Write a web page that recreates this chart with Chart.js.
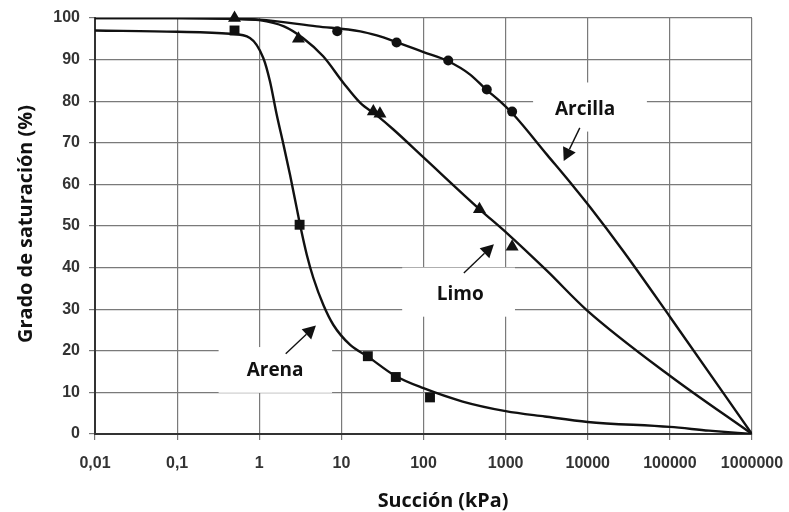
<!DOCTYPE html>
<html>
<head>
<meta charset="utf-8">
<script src="https://cdn.jsdelivr.net/npm/chart.js@4.4.1/dist/chart.umd.min.js"></script>
<style>
	html, body { margin: 0; padding: 0; background: #fff; }
	#wrap { width: 789px; height: 512px; }
</style>
</head>
<body>
<div id="wrap"><canvas id="myChart" width="789" height="512"></canvas></div>
<script>
// axis ticks
var xTicks = [0.01, 0.1, 1, 10, 100, 1000, 10000, 100000, 1000000]
var xTickLabels = ["0,01", "0,1", "1", "10", "100", "1000", "10000", "100000", "1000000"]
var xTitle = "Succión (kPa)"
var yTitle = "Grado de saturación (%)"

// fitted curves
var arenaLineX = [0.01, 0.1, 0.44, 0.77, 1.12, 1.35, 1.63, 1.97, 2.37, 2.86, 3.14, 3.79, 4.56, 6.04, 8, 12.8, 21, 45, 100, 300, 1000, 3000, 10000, 100000, 300000, 1000000]
var arenaLineY = [97, 96.7, 96.2, 95.2, 90.4, 84.8, 76.8, 69.6, 62.3, 54.3, 50.3, 43.1, 37.5, 31, 26.2, 21.4, 18.6, 14, 11, 7.8, 5.5, 4.2, 2.9, 1.7, 0.8, 0]
var limoLineX = [0.01, 0.1, 0.5, 1, 2, 3.4, 6, 10.6, 17, 27, 43, 100, 490, 1035, 3200, 9700, 100000, 1000000]
var limoLineY = [100, 100, 99.8, 99.5, 98, 95.2, 90.8, 84.4, 79.6, 76.6, 73.2, 66.5, 53.9, 48.3, 39.2, 29.8, 14, 0]
var arcillaLineX = [0.01, 0.1, 0.5, 1, 5, 17, 27, 47, 100, 200, 370, 580, 850, 1245, 3200, 6700, 10700, 27000, 100000, 1000000]
var arcillaLineY = [100, 100, 99.8, 99.6, 98, 96.8, 95.8, 94.2, 91.8, 89.6, 86.4, 82.8, 80, 76.8, 67.1, 59.5, 54.5, 44, 28.2, 0]

// measured points
var arenaPtsX = [0.5, 3.1, 21, 46, 120]
var arenaPtsY = [97, 50.3, 18.7, 13.7, 8.8]
var limoPtsX = [0.5, 3, 24.5, 29.5, 480, 1200]
var limoPtsY = [100, 95, 77.5, 77, 54, 45]
var arcillaPtsX = [8.9, 47, 200, 590, 1200]
var arcillaPtsY = [96.8, 94.1, 89.8, 82.8, 77.5]

// labels with arrows (data coords)
var notes = [
	{text: "Arcilla", x: 9300, y: 78, box: [2160, 52500, 84.5, 72.7], from: [8000, 73.6], to: [5100, 65.6]},
	{text: "Limo", x: 280, y: 33.5, box: [55, 1300, 40, 28.2], from: [310, 38.7], to: [720, 45.6]},
	{text: "Arena", x: 1.56, y: 15.2, box: [0.32, 7.7, 20.9, 9.9], from: [2.1, 19.3], to: [4.9, 26.1]},
]

function pts(xs, ys) {
	return xs.map(function (x, i) { return {x: x, y: ys[i]} })
}

var lineStyle = {showLine: true, pointRadius: 0, borderColor: "#111", borderWidth: 2.4, cubicInterpolationMode: "monotone", fill: false}
var markStyle = {showLine: false, backgroundColor: "#111", borderColor: "#111", borderWidth: 0, clip: false}

// set font so that the text spans a given length
function fitFont(c, text, len) {
	c.font = "bold 20px 'Open Sans'"
	var s = 20 * len / c.measureText(text).width
	c.font = "bold " + s.toFixed(1) + "px 'Open Sans'"
}

var notesPlugin = {
	id: "notes",
	beforeDatasetsDraw: function (chart) {
		var c = chart.ctx, xs = chart.scales.x, ys = chart.scales.y
		c.save()
		c.fillStyle = "#fff"
		notes.forEach(function (n) {
			var x1 = xs.getPixelForValue(n.box[0]), x2 = xs.getPixelForValue(n.box[1])
			var y1 = ys.getPixelForValue(n.box[2]), y2 = ys.getPixelForValue(n.box[3])
			c.fillRect(x1, y1, x2 - x1, y2 - y1)
		})
		c.restore()
	},
	afterDatasetsDraw: function (chart) {
		var c = chart.ctx, xs = chart.scales.x, ys = chart.scales.y
		c.save()
		c.fillStyle = "#111"
		c.strokeStyle = "#111"
		c.font = "bold 19px 'Open Sans'"
		c.textAlign = "center"
		c.textBaseline = "middle"
		notes.forEach(function (n) {
			c.fillText(n.text, xs.getPixelForValue(n.x), ys.getPixelForValue(n.y))
			var ax = xs.getPixelForValue(n.from[0]), ay = ys.getPixelForValue(n.from[1])
			var bx = xs.getPixelForValue(n.to[0]), by = ys.getPixelForValue(n.to[1])
			var ang = Math.atan2(by - ay, bx - ax)
			var hl = 13, hw = 7
			var bxs = bx - hl * Math.cos(ang), bys = by - hl * Math.sin(ang)
			c.lineWidth = 1.4
			c.beginPath()
			c.moveTo(ax, ay)
			c.lineTo(bxs, bys)
			c.stroke()
			c.beginPath()
			c.moveTo(bx, by)
			c.lineTo(bxs + hw * Math.sin(ang), bys - hw * Math.cos(ang))
			c.lineTo(bxs - hw * Math.sin(ang), bys + hw * Math.cos(ang))
			c.closePath()
			c.fill()
		})

		// axis titles
		c.textAlign = "center"
		c.textBaseline = "alphabetic"
		fitFont(c, xTitle, 131)
		c.fillText(xTitle, 443, 507)
		c.translate(32, 224)
		c.rotate(-Math.PI / 2)
		fitFont(c, yTitle, 238)
		c.fillText(yTitle, 0, 0)
		c.restore()
	},
}

var tickFont = {family: "'Liberation Sans', Arial, sans-serif", size: 16, weight: "bold"}

var ctx = document.getElementById("myChart").getContext("2d")
var myChart = new Chart(ctx, {
	type: "scatter",
	data: {
		datasets: [
			Object.assign({data: pts(arenaLineX, arenaLineY)}, lineStyle),
			Object.assign({data: pts(limoLineX, limoLineY)}, lineStyle),
			Object.assign({data: pts(arcillaLineX, arcillaLineY)}, lineStyle),
			Object.assign({data: pts(arenaPtsX, arenaPtsY), pointStyle: "rect", pointRadius: 7}, markStyle),
			Object.assign({data: pts(limoPtsX, limoPtsY), pointStyle: "triangle", pointRadius: 7.5}, markStyle),
			Object.assign({data: pts(arcillaPtsX, arcillaPtsY), pointStyle: "circle", pointRadius: 5}, markStyle),
		],
	},
	plugins: [notesPlugin],
	options: {
		responsive: false,
		animation: false,
		layout: {padding: {top: 18, right: 37, left: 0, bottom: 0}},
		scales: {
			x: {
				type: "logarithmic",
				min: 0.01,
				max: 1000000,
				afterBuildTicks: function (scale) {
					scale.ticks = xTicks.map(function (v) { return {value: v} })
				},
				afterFit: function (scale) {
					scale.height = 78
					scale.paddingLeft = 0
					scale.paddingRight = 0
				},
				ticks: {
					autoSkip: false,
					maxRotation: 0,
					padding: 14,
					color: "#333",
					font: tickFont,
					callback: function (v, i) { return xTickLabels[i] },
				},
				grid: {color: "#7a7a7a", lineWidth: 1.2, tickLength: 6, tickColor: "#777"},
				border: {color: "#333", width: 2},
			},
			y: {
				min: 0,
				max: 100,
				afterFit: function (scale) {
					scale.width = 95
					scale.paddingTop = 0
					scale.paddingBottom = 0
				},
				ticks: {stepSize: 10, padding: 9, color: "#333", font: tickFont},
				grid: {color: "#7a7a7a", lineWidth: 1.2, tickLength: 6, tickColor: "#777"},
				border: {color: "#333", width: 2},
			},
		},
		plugins: {
			legend: {display: false},
			tooltip: {enabled: false},
		},
	},
})
</script>
</body>
</html>
